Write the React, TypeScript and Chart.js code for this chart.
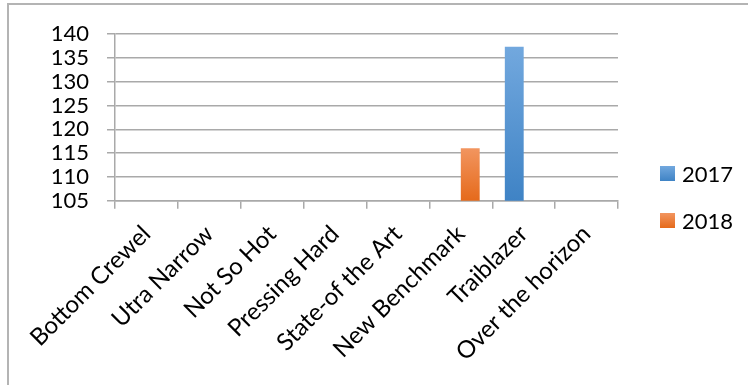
import React, { useEffect, useRef } from 'react';
import { Chart, registerables } from 'chart.js';

Chart.register(...registerables);

const categories = [
  'Bottom Crewel',
  'Utra Narrow',
  'Not So Hot',
  'Pressing Hard',
  'State-of the Art',
  'New Benchmark',
  'Traiblazer',
  'Over the horizon',
];
const seriesLabels = ['2017', '2018'];
const values2017 = [null, null, null, null, null, null, 137.3, null];
const values2018 = [null, null, null, null, null, 116, null, null];
const yTicks = [105, 110, 115, 120, 125, 130, 135, 140];

const FONT = 'Lato';
const FONT_SIZE = 22;
const X_FONT_SIZE = 24;
const GRID = '#a9a9a9';
const STYLE_TOP = ['#72a8de', '#f2955f'];
const STYLE_BOTTOM = ['#3f83c5', '#e56a1b'];
const STYLE_MID = ['#5b9bd5', '#ed7d31'];

function barGradient(i: number) {
  return (c: any) => {
    const chart = c.chart;
    const y = chart.scales ? chart.scales.y : null;
    if (c.type !== 'data' || !y || c.raw == null) return STYLE_MID[i];
    const y0 = y.getPixelForValue(c.raw);
    const y1 = y.getPixelForValue(y.min);
    if (!isFinite(y0) || !isFinite(y1) || y0 === y1) return STYLE_MID[i];
    const g = chart.ctx.createLinearGradient(0, y0, 0, y1);
    g.addColorStop(0, STYLE_TOP[i]);
    g.addColorStop(1, STYLE_BOTTOM[i]);
    return g;
  };
}

const sideLegend = {
  id: 'sideLegend',
  afterDraw(chart: any) {
    const ctx = chart.ctx;
    const x = 660;
    const startY = 166;
    const gap = 47;
    const box = 15;
    ctx.save();
    chart.data.datasets.forEach((ds: any, i: number) => {
      const y = startY + i * gap;
      const g = ctx.createLinearGradient(0, y, 0, y + box);
      g.addColorStop(0, STYLE_TOP[i]);
      g.addColorStop(1, STYLE_BOTTOM[i]);
      ctx.fillStyle = g;
      ctx.fillRect(x, y, box, box);
      ctx.fillStyle = '#000';
      ctx.font = `${FONT_SIZE}px ${FONT}`;
      ctx.textBaseline = 'middle';
      ctx.textAlign = 'left';
      ctx.fillText(ds.label, x + 22, y + box / 2 + 1);
    });
    ctx.restore();
  },
};

export default function App() {
  const ref = useRef<HTMLCanvasElement | null>(null);

  useEffect(() => {
    if (!ref.current) return;
    const chart = new Chart(ref.current, {
      type: 'bar',
      data: {
        labels: categories,
        datasets: [
          { label: seriesLabels[0], data: values2017 as any, backgroundColor: barGradient(0) as any, borderWidth: 0 },
          { label: seriesLabels[1], data: values2018 as any, backgroundColor: barGradient(1) as any, borderWidth: 0 },
        ],
      },
      options: {
        animation: false,
        responsive: false,
        maintainAspectRatio: false,
        devicePixelRatio: 1,
        events: [],
        layout: { padding: { left: 51, right: 130, top: 34, bottom: 17.5 } },
        datasets: { bar: { categoryPercentage: 0.6, barPercentage: 1 } },
        plugins: { legend: { display: false }, tooltip: { enabled: false } },
        scales: {
          x: {
            afterFit: (s: any) => {
              s.paddingLeft = 0;
              s.paddingRight = 0;
            },
            grid: { drawOnChartArea: false, drawTicks: true, tickLength: 8, color: GRID, lineWidth: 1.5 },
            border: { display: true, color: GRID, width: 1.5 },
            ticks: {
              autoSkip: false,
              minRotation: 45,
              maxRotation: 45,
              color: '#000',
              padding: 11,
              font: { family: FONT, size: X_FONT_SIZE },
            },
          },
          y: {
            min: 105,
            max: 140,
            afterBuildTicks: (scale: any) => {
              scale.ticks = yTicks.map((v) => ({ value: v }));
            },
            afterFit: (s: any) => {
              s.width = 64;
            },
            grid: { color: GRID, lineWidth: 1.5, tickLength: 8 },
            border: { display: true, color: GRID, width: 1.5 },
            ticks: { autoSkip: false, color: '#000', padding: 18, font: { family: FONT, size: FONT_SIZE } },
          },
        },
      },
      plugins: [sideLegend],
    });
    return () => chart.destroy();
  }, []);

  return (
    <div style={{ position: 'fixed', left: 0, top: 0, width: 748, height: 385, overflow: 'hidden', background: '#fff' }}>
      <div
        style={{
          position: 'absolute',
          left: 7,
          top: 3,
          width: 800,
          height: 500,
          borderLeft: '2px solid #b4b4b4',
          borderTop: '2px solid #b4b4b4',
        }}
      />
      <canvas ref={ref} width={748} height={385} style={{ position: 'absolute', left: 0, top: 0, width: 748, height: 385 }} />
    </div>
  );
}
